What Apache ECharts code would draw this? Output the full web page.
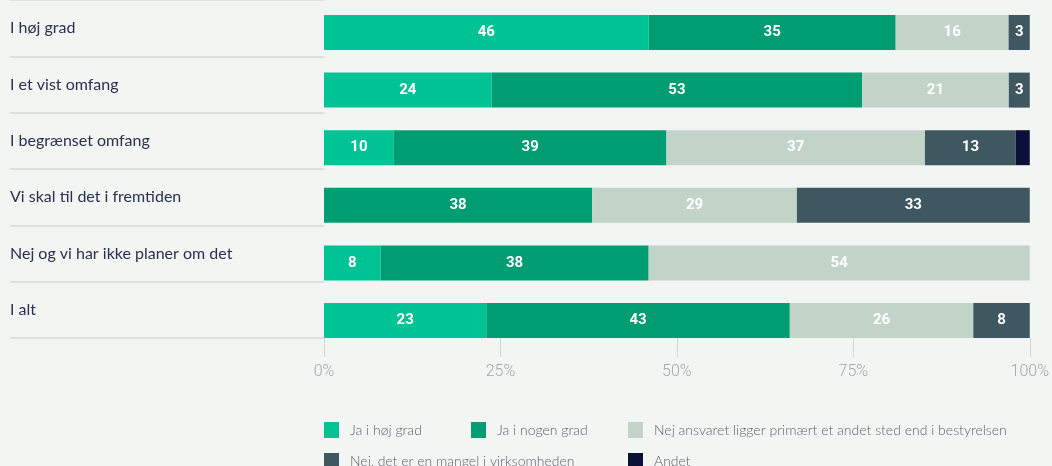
<!DOCTYPE html>
<html>
<head>
<meta charset="utf-8">
<script src="https://cdn.jsdelivr.net/npm/echarts@6/dist/echarts.min.js"></script>
<style>
  html, body { margin: 0; padding: 0; background: #f3f5f2; }
  #chart { width: 1052px; height: 466px; }
</style>
</head>
<body>
<div id="chart"></div>
<script>
// Answer groups (rows), top to bottom
const categories = [
  'I høj grad',
  'I et vist omfang',
  'I begrænset omfang',
  'Vi skal til det i fremtiden',
  'Nej og vi har ikke planer om det',
  'I alt'
];

// Response shares per row, in percent (null = no answers)
const jaHoejGrad   = [46, 24, 10, null, 8, 23];
const jaNogenGrad  = [35, 53, 39, 38, 38, 43];
const nejAnsvaret  = [16, 21, 37, 29, 54, 26];
const nejMangel    = [3, 3, 13, 33, null, 8];
const andet        = [null, null, 2, null, null, null];

const seriesNames = [
  'Ja i høj grad',
  'Ja i nogen grad',
  'Nej ansvaret ligger primært et andet sted end i bestyrelsen',
  'Nej, det er en mangel i virksomheden',
  'Andet'
];
const seriesValues = [jaHoejGrad, jaNogenGrad, nejAnsvaret, nejMangel, andet];
const seriesColors = ['#00c395', '#009d72', '#c2d4c8', '#3e5761', '#0b1039'];
const showLabel = [true, true, true, true, false];

const xTicks = [0, 25, 50, 75, 100];

// Each row is drawn as a 100% stacked bar (rounded shares may sum to 101)
const rowTotals = categories.map((_, i) =>
  seriesValues.reduce((s, arr) => s + (arr[i] || 0), 0));

const bandH = 57.6;
const barTop = 3.7;

const series = seriesNames.map((name, k) => ({
  name,
  type: 'bar',
  stack: 'total',
  xAxisIndex: 0,
  yAxisIndex: 0,
  barWidth: 35,
  itemStyle: { color: seriesColors[k] },
  label: {
    show: showLabel[k],
    position: 'inside',
    color: '#ffffff',
    fontFamily: 'Roboto',
    fontWeight: 'bold',
    fontSize: 15,
    formatter: p => (p.data && p.data.raw != null ? String(p.data.raw) : '')
  },
  emphasis: { disabled: true },
  data: seriesValues[k].map((v, i) =>
    v == null ? { value: null, raw: null } : { value: v / rowTotals[i] * 100, raw: v })
}));

const legendRows = [
  { name: seriesNames[0], left: 324, top: 422 },
  { name: seriesNames[1], left: 471, top: 422 },
  { name: seriesNames[2], left: 628, top: 422 },
  { name: seriesNames[3], left: 324, top: 453 },
  { name: seriesNames[4], left: 628, top: 453 }
];

const option = {
  backgroundColor: '#f3f5f2',
  animation: false,
  grid: [
    { left: 324, right: 22, top: barTop, height: bandH * 6 },
    { left: 10, width: 314, top: barTop + bandH / 2 + 17.5 - bandH, height: bandH * 6 }
  ],
  xAxis: [
    {
      type: 'value',
      gridIndex: 0,
      min: 0,
      max: 100,
      interval: 25,
      offset: -(bandH / 2 - 17.5),
      axisLine: { show: false },
      axisTick: { show: true, length: 19, lineStyle: { color: '#d3d6d3', width: 1 } },
      splitLine: { show: false },
      axisLabel: {
        margin: 26,
        color: '#a2a6ae',
        fontFamily: 'Roboto',
        fontWeight: 300,
        fontSize: 16,
        formatter: v => (xTicks.includes(v) ? v + '%' : '')
      }
    },
    {
      type: 'value',
      gridIndex: 1,
      min: 0,
      max: 1,
      show: false
    }
  ],
  yAxis: [
    {
      type: 'category',
      gridIndex: 0,
      inverse: true,
      data: categories,
      show: false
    },
    {
      type: 'category',
      gridIndex: 1,
      inverse: true,
      data: categories,
      axisLine: { show: false },
      axisTick: { show: false },
      splitLine: { show: true, lineStyle: { color: '#d6d9d6', width: 1.5 } },
      axisLabel: {
        inside: true,
        margin: 0,
        align: 'left',
        color: '#2a3050',
        fontFamily: 'Lato',
        fontSize: 16
      }
    }
  ],
  legend: legendRows.map(r => ({
    data: [r.name],
    left: r.left,
    top: r.top,
    padding: 0,
    itemWidth: 15,
    itemHeight: 16,
    icon: 'rect',
    selectedMode: false,
    textStyle: {
      color: '#5d6271',
      fontFamily: 'Lato',
      fontWeight: 300,
      fontSize: 14,
      padding: [0, 0, 0, 6]
    }
  })),
  series
};

const chart = echarts.init(document.getElementById('chart'), null, { renderer: 'canvas' });
chart.setOption(option);
</script>
</body>
</html>
